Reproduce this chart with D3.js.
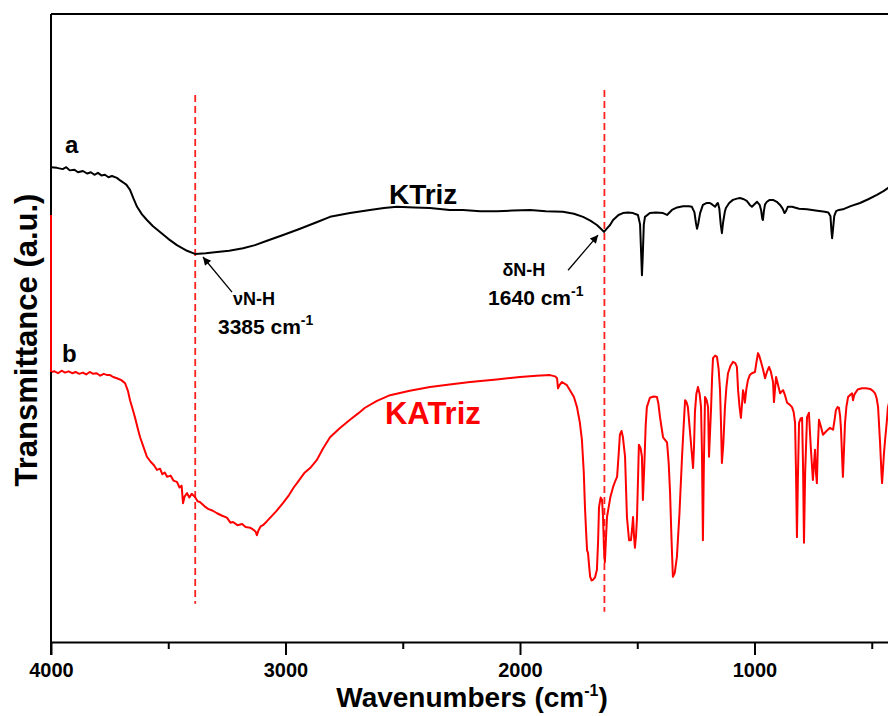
<!DOCTYPE html>
<html>
<head>
<meta charset="utf-8">
<script src="https://cdn.jsdelivr.net/npm/d3@7"></script>
<style>
  html, body { margin: 0; padding: 0; background: #fff; }
  svg { display: block; }
  text { font-family: "Liberation Sans", Arial, Helvetica, sans-serif; font-weight: bold; }
</style>
</head>
<body>
<svg id="chart" width="888" height="716"></svg>
<script>
// ---- Data (wavenumber cm^-1, transmittance a.u.) ----
const xTickValues = [4000, 3000, 2000, 1000];
const xMinorTickValues = [3500, 2500, 1500, 500];
const seriesNames = ["KTriz", "KATriz"];
const seriesLetters = ["a", "b"];

const ktriz = [
  [4000,75.6],[3975,75.5],[3950,75.3],[3935,75.6],[3920,75.1],[3900,75.2],[3885,74.8],[3864,75.0],
  [3845,74.6],[3830,74.8],[3815,74.4],[3800,74.7],[3785,74.3],[3770,74.4],[3755,74.0],[3740,74.2],
  [3719,73.9],[3705,73.5],[3693,73.2],[3678,72.8],[3663,72.0],[3648,70.6],[3633,69.3],[3612,68.1],
  [3591,67.2],[3565,66.2],[3535,65.3],[3500,64.2],[3463,63.2],[3420,62.3],[3386,61.8],[3340,61.9],
  [3292,62.1],[3240,62.3],[3181,62.7],[3130,63.2],[3079,63.9],[3010,64.8],[2938,65.8],[2870,66.8],
  [2810,67.7],[2725,68.3],[2640,68.8],[2580,69.1],[2525,69.3],[2450,69.2],[2384,69.1],[2300,68.8],
  [2243,68.8],[2170,68.6],[2098,68.6],[2030,68.7],[1957,68.8],[1890,68.6],[1817,68.5],[1770,68.2],
  [1731,67.7],[1700,67.1],[1672,66.4],[1655,65.8],[1642,65.3],[1628,65.9],[1616,66.4],[1603,67.2],
  [1580,68.0],[1561,68.3],[1540,68.4],[1518,68.3],[1497,68.0],[1488,66.5],[1482,60.5],[1480,58.4],
  [1477,61.0],[1472,66.5],[1467,67.7],[1446,68.3],[1420,68.4],[1390,68.3],[1373,68.0],[1352,68.8],
  [1330,69.2],[1305,69.4],[1280,69.4],[1267,69.3],[1256,68.4],[1250,66.8],[1245,65.8],[1240,66.6],
  [1232,68.3],[1220,69.6],[1205,69.9],[1190,69.9],[1178,69.6],[1168,69.3],[1160,69.8],[1156,69.9],
  [1150,69.0],[1144,66.5],[1139,65.1],[1134,66.8],[1126,68.6],[1122,69.1],[1108,69.9],[1092,70.4],
  [1075,70.6],[1062,70.7],[1045,70.5],[1032,70.2],[1020,69.6],[1011,69.3],[1000,69.7],[989,70.1],
  [978,69.6],[972,68.8],[967,67.4],[964,67.2],[960,68.6],[955,69.7],[947,70.1],[935,70.4],
  [921,70.4],[905,70.1],[891,69.6],[880,69.0],[872,68.3],[866,68.6],[858,69.3],[840,69.3],
  [810,69.0],[776,68.9],[740,68.7],[700,68.5],[685,68.4],[676,67.8],[672,65.5],[669,64.3],
  [665,65.8],[660,67.8],[652,68.6],[640,68.8],[623,68.9],[590,69.4],[550,69.9],[515,70.5],
  [478,71.2],[450,71.8],[431,72.3],[400,73.0]
];

const katriz = [
  [4000,43.0],[3985,43.1],[3970,42.8],[3955,43.2],[3940,42.9],[3925,43.1],[3910,42.8],[3895,43.0],
  [3880,42.7],[3864,42.9],[3850,42.6],[3835,43.0],[3820,42.7],[3805,42.8],[3790,42.4],[3775,42.7],
  [3760,42.5],[3748,42.5],[3735,42.2],[3719,42.0],[3700,41.7],[3684,41.2],[3672,40.0],[3663,38.5],
  [3652,37.1],[3642,35.8],[3630,34.0],[3620,32.6],[3605,31.0],[3591,29.5],[3575,28.7],[3560,28.1],
  [3548,27.4],[3535,27.6],[3525,26.7],[3515,27.0],[3505,26.3],[3490,26.5],[3478,25.7],[3463,25.5],
  [3452,24.6],[3443,24.9],[3437,22.1],[3430,23.2],[3420,23.7],[3410,23.0],[3400,23.6],[3386,23.1],
  [3375,22.4],[3365,22.3],[3345,21.6],[3330,21.2],[3310,20.9],[3292,20.5],[3270,20.1],[3250,19.8],
  [3235,19.0],[3224,19.1],[3205,18.6],[3185,18.8],[3170,18.3],[3151,18.2],[3138,17.9],[3128,17.6],
  [3122,17.0],[3115,17.8],[3106,18.4],[3096,18.6],[3080,19.2],[3060,20.0],[3040,20.8],[3011,22.1],
  [2985,23.4],[2965,24.6],[2951,25.3],[2920,26.9],[2895,27.7],[2866,29.0],[2840,30.8],[2810,32.6],
  [2770,34.0],[2725,35.4],[2690,36.4],[2661,37.3],[2610,38.4],[2554,39.3],[2470,40.0],[2384,40.6],
  [2300,41.0],[2213,41.4],[2100,41.8],[2000,42.2],[1930,42.4],[1872,42.5],[1850,42.3],[1842,42.0],
  [1838,40.4],[1830,41.0],[1821,41.4],[1800,40.9],[1787,40.1],[1770,39.0],[1757,37.4],[1745,35.0],
  [1736,32.2],[1728,27.0],[1723,21.5],[1718,17.5],[1714,14.6],[1710,14.2],[1705,12.0],[1701,10.4],
  [1695,9.8],[1689,9.9],[1680,10.3],[1672,11.5],[1667,16.0],[1663,21.5],[1656,23.0],[1650,22.6],
  [1646,19.9],[1642,15.0],[1638,12.7],[1634,16.0],[1629,19.9],[1615,23.0],[1603,24.7],[1594,25.6],
  [1586,26.3],[1580,29.5],[1574,33.0],[1567,33.6],[1561,32.6],[1552,29.5],[1544,19.9],[1535,16.2],
  [1527,16.2],[1522,18.0],[1518,19.9],[1514,17.0],[1510,15.0],[1505,17.0],[1501,19.9],[1496,27.0],
  [1493,31.4],[1486,30.9],[1480,29.5],[1476,22.6],[1470,28.0],[1464,34.5],[1459,37.4],[1446,38.9],
  [1430,39.1],[1416,39.0],[1410,38.0],[1403,35.8],[1390,32.6],[1373,31.8],[1366,28.5],[1360,23.7],
  [1354,16.5],[1348,10.4],[1340,11.0],[1331,13.5],[1320,20.5],[1309,29.5],[1302,34.5],[1296,38.5],
  [1290,38.2],[1284,37.4],[1274,33.0],[1262,27.7],[1258,31.0],[1254,36.6],[1248,39.5],[1241,40.6],
  [1234,39.5],[1228,37.4],[1224,30.0],[1220,16.2],[1216,28.0],[1211,39.0],[1204,38.5],[1198,37.4],
  [1194,29.5],[1190,33.0],[1185,37.4],[1181,42.0],[1177,45.2],[1168,45.6],[1160,45.4],[1153,43.5],
  [1147,40.1],[1143,35.0],[1139,28.5],[1133,31.5],[1126,37.4],[1120,40.5],[1113,42.8],[1102,44.0],
  [1092,44.6],[1082,44.4],[1075,43.8],[1070,40.1],[1064,37.5],[1058,35.7],[1053,38.0],[1049,40.1],
  [1045,39.4],[1041,38.1],[1035,40.2],[1028,41.7],[1020,42.5],[1011,42.8],[998,43.0],[992,44.5],
  [985,46.0],[980,45.6],[972,44.6],[963,43.3],[955,42.0],[946,43.1],[938,43.8],[930,43.0],
  [921,41.4],[917,38.2],[912,40.5],[908,42.2],[900,41.0],[891,39.6],[884,39.9],[878,40.1],
  [870,39.3],[861,38.1],[850,37.8],[840,37.4],[833,36.6],[827,34.9],[823,27.0],[819,16.7],
  [815,26.0],[810,34.9],[803,35.6],[797,35.7],[793,28.0],[789,15.8],[784,27.0],[776,35.8],
  [768,36.5],[760,31.0],[751,25.8],[746,28.5],[742,30.6],[738,27.0],[734,25.3],[730,31.0],
  [725,35.4],[716,34.2],[708,33.0],[693,33.6],[678,34.1],[665,33.8],[658,35.5],[653,36.9],
  [646,37.4],[640,37.3],[635,36.0],[631,33.8],[626,29.0],[623,26.3],[619,30.0],[614,34.9],
  [608,37.5],[601,39.0],[590,39.4],[584,39.6],[580,38.5],[575,39.3],[571,39.6],[560,40.2],
  [542,40.4],[525,40.4],[507,40.3],[495,40.0],[486,39.6],[479,38.8],[473,37.4],[465,32.0],
  [458,26.5],[456,25.3],[452,27.5],[448,30.0],[443,32.2],[436,35.0],[431,37.4],[420,39.0],
  [400,40.1]
];

// markers / annotations in data units
const markerWavenumbers = [3385, 1640];
const markerSpans = [[87.1, 6.1], [87.9, 4.8]];
const annotationLabels = [
  { name: "νN-H", value: "3385" },
  { name: "δN-H", value: "1640" }
];

// ---- Layout ----
const svg = d3.select("#chart");
const W = 888, H = 716;
const mLeft = 51, mTop = 14, mBottom = 642;
const pxPerUnit = 0.2345;
const rightEnd = mLeft + 3600 * pxPerUnit;

svg.append("rect").attr("width", W).attr("height", H).attr("fill", "#fff");

const x = d3.scaleLinear().domain([4000, 400]).range([mLeft, rightEnd]);
const y = d3.scaleLinear().domain([0, 100]).range([mBottom, mTop]);

const defs = svg.append("defs");
defs.append("clipPath").attr("id", "plotclip")
  .append("rect").attr("x", mLeft).attr("y", mTop).attr("width", rightEnd - mLeft).attr("height", mBottom - mTop);

defs.append("marker")
  .attr("id", "arrowhead").attr("viewBox", "0 0 10 10")
  .attr("refX", 10).attr("refY", 5)
  .attr("markerWidth", 12).attr("markerHeight", 8)
  .attr("markerUnits", "userSpaceOnUse")
  .attr("orient", "auto")
  .append("path").attr("d", "M0,0 L10,5 L0,10 Z").attr("fill", "#000");

const plot = svg.append("g").attr("clip-path", "url(#plotclip)");

// dashed marker lines
markerWavenumbers.forEach((wn, i) => {
  plot.append("line")
    .attr("x1", x(wn)).attr("x2", x(wn))
    .attr("y1", y(markerSpans[i][0])).attr("y2", y(markerSpans[i][1]))
    .attr("stroke", "#ff2020").attr("stroke-width", 1.8)
    .attr("stroke-dasharray", "7,4");
});

const line = d3.line().x(d => x(d[0])).y(d => y(d[1]));

plot.append("path").datum(ktriz)
  .attr("d", line).attr("fill", "none")
  .attr("stroke", "#000").attr("stroke-width", 2).attr("stroke-linejoin", "round");

plot.append("path").datum(katriz)
  .attr("d", line).attr("fill", "none")
  .attr("stroke", "#ff0000").attr("stroke-width", 2).attr("stroke-linejoin", "round");

// frame: top border
svg.append("line")
  .attr("x1", mLeft).attr("x2", rightEnd)
  .attr("y1", mTop).attr("y2", mTop)
  .attr("stroke", "#000").attr("stroke-width", 2);

// y axis (no ticks)
svg.append("line")
  .attr("x1", mLeft).attr("x2", mLeft)
  .attr("y1", mTop).attr("y2", mBottom + 13)
  .attr("stroke", "#000").attr("stroke-width", 2);
// red segment on the y axis
svg.append("line")
  .attr("x1", mLeft).attr("x2", mLeft)
  .attr("y1", y(68.0)).attr("y2", y(43.0))
  .attr("stroke", "#ff0000").attr("stroke-width", 2);

// x axis
const xAxis = d3.axisBottom(x).tickValues(xTickValues).tickSize(13).tickSizeOuter(0).tickFormat(d3.format("d"));
const gx = svg.append("g").attr("transform", `translate(0,${mBottom})`).call(xAxis);
gx.select(".domain").attr("stroke", "#000").attr("stroke-width", 2);
gx.selectAll(".tick line").attr("stroke", "#000").attr("stroke-width", 2);
gx.selectAll(".tick text")
  .attr("dy", null).attr("y", 35)
  .attr("fill", "#000")
  .style("font-size", "20px").style("font-weight", "bold")
  .style("font-family", '"Liberation Sans", Arial, sans-serif');

const xMinor = d3.axisBottom(x).tickValues(xMinorTickValues).tickSize(7).tickSizeOuter(0).tickFormat("");
const gxm = svg.append("g").attr("transform", `translate(0,${mBottom})`).call(xMinor);
gxm.select(".domain").remove();
gxm.selectAll(".tick line").attr("stroke", "#000").attr("stroke-width", 2);

// axis titles
const xt = svg.append("text")
  .attr("x", 472).attr("y", 707)
  .attr("text-anchor", "middle")
  .style("font-size", "28px");
xt.append("tspan").text("Wavenumbers (cm");
xt.append("tspan").attr("dy", -11).style("font-size", "16px").text("-1");
xt.append("tspan").attr("dy", 11).text(")");

svg.append("text")
  .attr("transform", "translate(37,340) rotate(-90)")
  .attr("text-anchor", "middle")
  .style("font-size", "31px")
  .text("Transmittance (a.u.)");

// series labels
svg.append("text").attr("x", x(2559)).attr("y", y(69.7))
  .style("font-size", "28px").attr("fill", "#000").text(seriesNames[0]);
svg.append("text").attr("x", x(2576)).attr("y", y(34.7))
  .style("font-size", "31px").attr("fill", "#ff0000").text(seriesNames[1]);

svg.append("text").attr("x", x(3940)).attr("y", y(77.9))
  .style("font-size", "24px").attr("fill", "#000").text(seriesLetters[0]);
svg.append("text").attr("x", x(3953)).attr("y", y(44.6))
  .style("font-size", "24px").attr("fill", "#000").text(seriesLetters[1]);

// annotations
const annos = [
  { tail: [3228, 55.7], tip: [3352, 61.3], nameAt: [3224, 53.7], valAt: [3288, 49.0] },
  { tail: [1795, 59.2], tip: [1667, 64.8], nameAt: [2075, 58.3], valAt: [2136, 53.7] }
];
annos.forEach((a, i) => {
  svg.append("line")
    .attr("x1", x(a.tail[0])).attr("y1", y(a.tail[1]))
    .attr("x2", x(a.tip[0])).attr("y2", y(a.tip[1]))
    .attr("stroke", "#000").attr("stroke-width", 1.3)
    .attr("marker-end", "url(#arrowhead)");
  svg.append("text").attr("x", x(a.nameAt[0])).attr("y", y(a.nameAt[1]))
    .style("font-size", "18px").text(annotationLabels[i].name);
  const t = svg.append("text").attr("x", x(a.valAt[0])).attr("y", y(a.valAt[1]))
    .style("font-size", "21px");
  t.append("tspan").text(annotationLabels[i].value + " cm");
  t.append("tspan").attr("dy", -9).style("font-size", "14px").text("-1");
});
</script>
</body>
</html>
